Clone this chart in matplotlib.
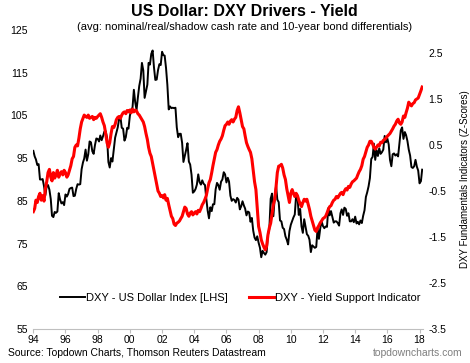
import numpy as np
import pandas as pd
import matplotlib
matplotlib.use("Agg")
import matplotlib.pyplot as plt
import matplotlib.dates as mdates

plt.rcParams['font.family'] = ['Liberation Sans', 'DejaVu Sans']

# monthly values, Jan 1994 - Mar 2018
dxy = [
    96.7, 95.4, 94.7, 93.4, 93.6, 90.0, 90.0, 90.1, 88.4, 86.3, 88.5, 88.7,   # 1994
    87.6, 85.4, 81.5, 81.2, 82.4, 82.2, 82.5, 86.8, 85.3, 84.4, 84.7, 84.0,   # 1995
    86.5, 86.0, 86.6, 87.8, 88.0, 88.1, 86.1, 86.2, 87.8, 88.9, 88.8, 88.9,   # 1996
    92.4, 94.0, 94.9, 97.0, 94.4, 95.9, 98.9, 98.7, 96.6, 96.0, 98.1, 99.6,   # 1997
    99.5, 98.9, 100.3, 99.2, 100.1, 101.2, 101.3, 99.8, 94.1, 92.8, 95.0, 94.2,  # 1998
    96.9, 99.8, 100.9, 102.2, 104.1, 104.7, 102.1, 101.9, 99.1, 99.9, 102.1, 101.9,  # 1999
    104.9, 106.4, 106.8, 111.0, 108.1, 106.3, 109.2, 111.9, 113.6, 117.3, 115.5, 109.1,  # 2000
    110.6, 112.2, 117.3, 116.9, 119.4, 120.2, 116.3, 113.3, 113.4, 115.6, 117.0, 116.8,  # 2001
    119.9, 119.1, 119.0, 116.1, 112.2, 106.4, 107.1, 106.7, 106.8, 106.7, 106.8, 102.2,  # 2002
    99.9, 100.7, 100.7, 98.6, 94.1, 95.5, 96.9, 98.5, 94.2, 93.5, 91.1, 86.9,  # 2003
    87.2, 87.8, 88.8, 91.2, 89.4, 88.8, 89.8, 89.0, 88.7, 85.5, 82.7, 80.9,   # 2004
    83.5, 82.6, 84.2, 84.2, 87.7, 89.2, 88.7, 87.6, 89.5, 90.0, 91.7, 91.2,   # 2005
    89.3, 90.4, 89.5, 86.2, 85.0, 85.4, 85.2, 84.6, 85.7, 85.3, 83.0, 83.7,   # 2006
    84.9, 83.9, 83.2, 81.6, 82.5, 82.3, 80.1, 81.0, 78.0, 76.4, 75.8, 76.7,   # 2007
    75.2, 74.0, 71.8, 73.3, 72.8, 72.4, 73.0, 77.1, 78.5, 85.5, 86.7, 81.4,   # 2008
    85.8, 88.5, 85.3, 84.7, 80.4, 80.2, 78.7, 78.4, 76.7, 75.9, 74.8, 77.9,   # 2009
    79.4, 80.3, 81.1, 81.8, 86.2, 86.0, 81.7, 83.1, 79.0, 77.5, 80.7, 79.0,   # 2010
    77.2, 76.8, 75.9, 73.0, 74.6, 74.3, 74.0, 74.2, 78.6, 76.1, 78.6, 80.2,   # 2011
    79.1, 78.6, 79.0, 78.9, 83.3, 81.6, 82.6, 81.2, 79.9, 80.2, 80.2, 79.8,   # 2012
    79.2, 82.1, 83.0, 81.7, 83.4, 83.1, 81.5, 82.1, 80.2, 80.2, 80.7, 80.0,   # 2013
    81.3, 79.7, 80.1, 79.5, 80.4, 79.8, 81.5, 82.8, 85.9, 87.0, 88.4, 90.3,   # 2014
    94.8, 95.3, 98.4, 94.6, 96.9, 95.5, 97.3, 96.0, 96.4, 97.0, 100.2, 98.7,  # 2015
    99.6, 98.2, 94.6, 93.1, 95.9, 96.1, 95.6, 95.9, 95.4, 98.5, 101.5, 102.2,  # 2016
    99.5, 101.1, 100.4, 99.0, 97.0, 95.6, 92.9, 92.7, 93.1, 94.6, 93.0, 92.1,  # 2017
    89.1, 89.6, 92.3,  # 2018
]

yield_support = [
    -0.95, -0.88, -0.70, -0.75, -0.62, -0.55, -0.70, -0.60, -0.72, -0.45, -0.30, -0.10,  # 1994
    -0.03, -0.20, -0.28, -0.10, -0.22, -0.15, -0.05, -0.20, -0.12, -0.08, -0.15, -0.05,  # 1995
    -0.10, -0.20, -0.15, -0.05, 0.05, 0.20, 0.25, 0.45, 0.50, 0.48, 0.65, 0.85,  # 1996
    1.00, 1.08, 1.15, 1.12, 1.10, 1.15, 1.08, 1.10, 1.12, 1.05, 1.10, 1.08,  # 1997
    1.12, 1.15, 1.18, 1.10, 1.00, 0.92, 0.75, 0.55, 0.45, 0.55, 0.75, 0.90,  # 1998
    0.88, 0.95, 1.05, 1.10, 1.12, 1.08, 1.15, 1.20, 1.22, 1.18, 1.25, 1.22,  # 1999
    1.26, 1.20, 1.28, 1.22, 1.26, 1.24, 1.18, 1.15, 1.10, 1.05, 1.00, 0.90,  # 2000
    0.75, 0.62, 0.45, 0.32, 0.25, 0.10, -0.05, -0.20, -0.35, -0.50, -0.55, -0.62,  # 2001
    -0.60, -0.65, -0.58, -0.70, -0.66, -0.80, -0.92, -1.05, -1.10, -1.22, -1.25, -1.20,  # 2002
    -1.18, -1.15, -1.10, -1.05, -0.95, -0.85, -0.88, -1.00, -1.05, -0.98, -0.95, -1.02,  # 2003
    -0.98, -0.95, -1.00, -0.92, -0.95, -0.88, -0.80, -0.75, -0.68, -0.60, -0.45, -0.32,  # 2004
    -0.25, -0.10, 0.05, 0.20, 0.34, 0.40, 0.50, 0.58, 0.63, 0.70, 0.82, 0.92,  # 2005
    0.95, 1.00, 0.95, 1.02, 1.05, 1.00, 1.06, 1.10, 1.25, 1.33, 1.20, 1.05,  # 2006
    0.90, 0.85, 0.70, 0.55, 0.47, 0.40, 0.34, 0.20, -0.05, -0.30, -0.47, -0.85,  # 2007
    -1.27, -1.40, -1.56, -1.65, -1.72, -1.78, -1.70, -1.45, -1.30, -1.20, -1.00, -0.80,  # 2008
    -0.68, -0.40, -0.10, 0.04, 0.05, 0.08, 0.00, -0.15, -0.25, -0.45, -0.60, -0.75,  # 2009
    -0.55, -0.47, -0.55, -0.62, -0.55, -0.60, -0.70, -0.78, -0.84, -0.75, -0.68, -0.72,  # 2010
    -0.68, -0.80, -0.90, -1.05, -1.15, -1.25, -1.35, -1.38, -1.30, -1.25, -1.19, -1.15,  # 2011
    -1.10, -1.08, -1.05, -0.98, -0.90, -0.84, -0.82, -0.75, -0.70, -0.68, -0.62, -0.65,  # 2012
    -0.60, -0.55, -0.53, -0.58, -0.50, -0.45, -0.48, -0.40, -0.42, -0.35, -0.30, -0.28,  # 2013
    -0.25, -0.22, -0.15, -0.08, -0.03, 0.05, 0.19, 0.25, 0.35, 0.45, 0.50, 0.58,  # 2014
    0.58, 0.52, 0.45, 0.41, 0.45, 0.50, 0.48, 0.56, 0.55, 0.60, 0.62, 0.65,  # 2015
    0.69, 0.72, 0.75, 0.80, 0.85, 0.91, 0.95, 1.02, 1.06, 0.98, 0.95, 1.00,  # 2016
    1.13, 1.10, 1.20, 1.30, 1.43, 1.38, 1.35, 1.40, 1.42, 1.48, 1.50, 1.52,  # 2017
    1.60, 1.68, 1.76,  # 2018
]

dates = pd.date_range('1994-01-01', periods=len(dxy), freq='MS')

fig = plt.figure(figsize=(4.7, 3.63), dpi=100)
ax = fig.add_axes([0.0709, 0.0937, 0.8286, 0.8237])
ax2 = ax.twinx()

l1, = ax.plot(dates, dxy, color='black', lw=1.4)
l2, = ax2.plot(dates, yield_support, color='#ff0000', lw=2.2)

ax.set_ylim(55, 125)
ax.set_yticks(np.arange(55, 126, 10))
ax2.set_ylim(-3.5, 3.0)
ax2.set_yticks(np.arange(-3.5, 2.6, 1.0))
ax2.set_yticklabels(['-3.5', '-2.5', '-1.5', '-0.5', '0.5', '1.5', '2.5'])
ax.set_xlim(pd.Timestamp('1994-01-01'), pd.Timestamp('2018-03-15'))
ax.xaxis.set_major_locator(mdates.YearLocator(2))
ax.xaxis.set_major_formatter(mdates.DateFormatter('%y'))

for a in (ax, ax2):
    for s in ('top', 'left', 'right'):
        a.spines[s].set_visible(False)
    a.spines['bottom'].set_color('#bfbfbf')
    a.tick_params(axis='y', length=0, labelsize=7.5, pad=4)
ax2.spines['bottom'].set_visible(False)
ax.tick_params(axis='x', length=3, color='#bfbfbf', labelsize=7.5, pad=1)
ax2.set_ylabel('DXY Fundamentals Indicators (Z-Scores)', fontsize=7, labelpad=10)

ax2.legend([l1, l2], ['DXY - US Dollar Index [LHS]', 'DXY - Yield Support Indicator'],
           loc='center left', bbox_to_anchor=(0.069, 0.104), ncol=2, frameon=False,
           fontsize=8, handlelength=2.2, handletextpad=0.15, columnspacing=1.9,
           borderpad=0, borderaxespad=0)

fig.text(0.521, 0.967, 'US Dollar: DXY Drivers - Yield', ha='center', va='center',
         fontsize=11.5, fontweight='bold')
fig.text(0.521, 0.925, '(avg: nominal/real/shadow cash rate and 10-year bond differentials)',
         ha='center', va='center', fontsize=8)
fig.text(0.017, 0.027, 'Source: Topdown Charts, Thomson Reuters Datastream', ha='left',
         va='center', fontsize=7.5)
fig.text(0.985, 0.027, 'topdowncharts.com', ha='right', va='center', fontsize=7.5,
         color='#7f7f7f')

fig.savefig('out.png', dpi=100)
